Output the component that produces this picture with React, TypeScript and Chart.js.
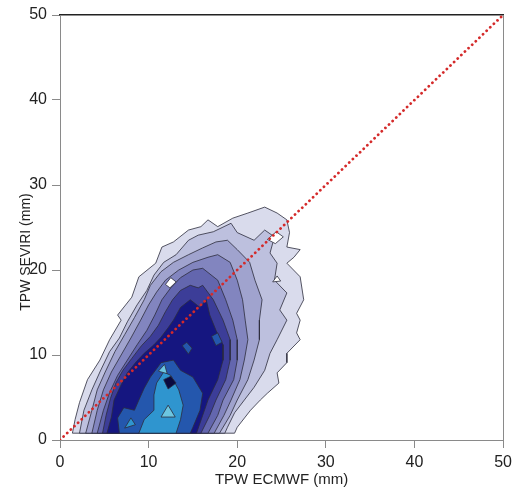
import React, { useEffect, useRef } from "react";
import { Chart, registerables } from "chart.js";

Chart.register(...registerables);

type Pt = [number, number];

// ---- axes / labels ----
const AXIS_MIN = 0;
const AXIS_MAX = 50;
const X_TICKS = [0, 10, 20, 30, 40, 50];
const Y_TICKS = [0, 10, 20, 30, 40, 50];
const X_TITLE = "TPW ECMWF (mm)";
const Y_TITLE = "TPW SEVIRI (mm)";

// 1:1 reference line
const DIAGONAL: Pt[] = [[0, 0], [50, 50]];

// ---- contour level polygons (x = ECMWF mm, y = SEVIRI mm) ----
const LEVEL1: Pt[] = [
  [1.4, 0.8], [1.7, 2.4], [2.2, 4.4], [3.1, 7.1], [4.5, 9.4], [5.6, 11.8], [6.9, 14.1], [6.5, 14.7],
  [8.1, 16.8], [8.9, 19.2], [10.8, 20.8], [11.5, 22.7], [12.8, 23.3], [14.5, 24.7], [15.9, 25.1],
  [16.7, 25.9], [17.8, 25.1], [19.5, 26.1], [21.2, 26.7], [23.1, 27.4], [24.5, 26.7], [25.6, 25.9],
  [25.9, 24.4], [25.6, 22.7], [27.1, 22.4], [26.4, 21.5], [25.6, 20.8], [27.1, 19.2], [27.5, 16.5],
  [26.7, 14.9], [27.1, 14.1], [26.7, 12.6], [27.1, 11.8], [25.6, 10.2], [25.6, 9.1], [24.5, 7.9],
  [24.7, 6.7], [23.4, 5.5], [22.6, 4.7], [21.5, 3.5], [20.9, 2.7], [20.0, 1.5], [19.7, 0.8],
];
const LEVEL2: Pt[] = [
  [2.2, 0.8], [2.7, 3.5], [3.6, 5.9], [4.5, 8.0], [5.6, 10.4], [6.7, 12.0], [7.6, 13.9], [8.7, 15.9],
  [9.8, 17.6], [10.6, 19.4], [11.7, 20.9], [13.1, 21.8], [14.5, 23.5], [15.6, 24.1], [17.3, 24.5],
  [19.3, 25.5], [20.0, 24.4], [21.9, 23.5], [23.1, 24.7], [24.2, 23.9], [23.7, 22.0], [24.5, 20.8],
  [24.2, 18.8], [25.6, 17.3], [24.8, 15.3], [25.6, 14.1], [24.5, 11.8], [23.7, 10.2], [23.1, 8.2],
  [21.9, 6.2], [20.8, 4.7], [19.7, 3.2], [18.9, 1.5], [18.6, 0.8],
];
const LEVEL3: Pt[] = [
  [2.9, 0.8], [3.6, 3.5], [4.2, 5.9], [5.1, 8.0], [6.2, 10.4], [7.3, 12.4], [8.4, 14.4], [9.5, 16.5],
  [10.2, 18.2], [11.4, 19.8], [12.8, 20.9], [14.5, 21.8], [16.1, 22.6], [17.6, 23.3], [18.9, 23.5],
  [20.0, 22.4], [21.4, 20.9], [22.0, 18.8], [22.8, 16.5], [22.5, 14.1], [22.5, 11.8], [21.9, 9.4],
  [21.2, 7.1], [20.0, 4.7], [19.2, 2.9], [18.0, 0.8],
];
const LEVEL4: Pt[] = [
  [3.6, 0.8], [4.2, 3.5], [4.9, 5.9], [5.8, 8.0], [6.9, 10.0], [8.0, 12.0], [9.1, 14.1], [10.0, 15.9],
  [10.9, 17.4], [11.9, 18.8], [13.4, 20.0], [15.0, 20.9], [16.7, 21.5], [17.8, 21.8], [19.2, 20.9],
  [20.0, 18.8], [20.6, 16.5], [20.9, 14.1], [21.2, 11.8], [20.8, 9.4], [20.3, 7.1], [19.3, 4.7],
  [18.5, 2.9], [17.4, 0.8],
];
const LEVEL5: Pt[] = [
  [4.2, 0.8], [4.9, 3.5], [5.6, 5.6], [6.5, 7.6], [7.6, 9.4], [8.7, 11.2], [9.8, 12.9], [10.7, 14.7],
  [11.5, 16.5], [12.5, 17.9], [13.6, 19.1], [15.0, 20.0], [16.1, 20.2], [17.8, 18.8], [18.7, 16.5],
  [19.5, 14.1], [20.0, 11.8], [20.0, 9.4], [19.6, 7.1], [18.4, 4.7], [17.8, 2.9], [16.7, 0.8],
];
const HOLES: Pt[][] = [
  [[23.4, 23.6], [24.4, 24.5], [25.2, 23.9], [24.3, 23.1]],
  [[11.9, 18.3], [12.5, 19.1], [13.1, 18.6], [12.4, 17.9]],
  [[24.0, 18.6], [24.5, 19.3], [24.9, 18.7]],
];
const LEVEL6: Pt[] = [
  [4.8, 0.8], [5.2, 2.9], [5.7, 4.9], [6.3, 6.7], [7.1, 8.2], [8.1, 9.6], [9.2, 11.1], [10.2, 12.2],
  [11.1, 13.5], [11.9, 15.1], [12.7, 16.5], [13.6, 17.6], [14.7, 18.2], [15.6, 17.9], [16.1, 18.2],
  [17.3, 16.5], [18.4, 14.1], [19.2, 11.8], [19.2, 9.4], [18.7, 7.1], [17.6, 4.7], [16.9, 2.9], [15.9, 0.8],
];
const LEVEL7: Pt[] = [
  [5.3, 0.8], [5.8, 2.7], [6.1, 4.7], [6.9, 6.5], [7.6, 7.9], [8.6, 9.2], [9.5, 10.2], [10.6, 11.2],
  [11.4, 12.1], [12.2, 13.2], [12.8, 14.1], [13.6, 15.6], [14.7, 16.5], [15.8, 15.6], [16.5, 16.5],
  [16.9, 14.7], [17.6, 12.9], [18.4, 11.2], [18.4, 9.4], [17.8, 7.1], [16.7, 4.7], [16.1, 2.9], [15.4, 0.8],
];
const LEVEL8: Pt[][] = [
  [[6.7, 0.8], [6.5, 2.6], [7.2, 3.8], [8.4, 3.5], [8.9, 4.7], [9.5, 6.1], [10.2, 7.4], [11.4, 9.1],
   [12.8, 9.4], [13.6, 8.2], [15.0, 7.4], [16.1, 5.5], [15.8, 3.5], [15.0, 1.5], [14.7, 0.8]],
  [[13.8, 11.1], [14.3, 11.5], [14.9, 10.8], [14.5, 10.1]],
  [[17.1, 12.2], [17.8, 12.6], [18.3, 11.5], [17.6, 11.1]],
];
const LEVEL9: Pt[][] = [
  [[8.9, 0.8], [9.5, 2.4], [10.6, 3.5], [10.6, 5.3], [10.9, 6.7], [11.7, 8.0], [12.5, 7.6], [13.4, 5.9],
   [13.9, 4.1], [13.6, 2.4], [13.1, 0.8]],
  [[7.3, 1.4], [8.0, 2.6], [8.5, 1.8]],
];
const LEVEL10: Pt[][] = [
  [[11.4, 2.7], [12.2, 4.1], [13.0, 2.7]],
  [[11.1, 8.1], [11.8, 8.9], [12.1, 7.8]],
];
const CORE: Pt[] = [[11.7, 7.1], [12.5, 7.5], [13.1, 6.7], [12.2, 6.0]];

// ---- styling palette (one per level) ----
const LEVEL_COLORS = [
  "#d9dbec", "#bdc0de", "#a0a3ce", "#8285bf", "#6366ae",
  "#3c3d98", "#151680", "#2457ad", "#2f95cf", "#6cc6e0",
];
const HOLE_COLOR = "#ffffff";
const CORE_COLOR = "#0a0a40";

const toXY = (poly: Pt[]) => poly.concat([poly[0]]).map(([x, y]) => ({ x, y }));

const FONT = '"Liberation Sans", Arial, sans-serif';

const yTitlePlugin = {
  id: "yTitle",
  afterDraw(chart: any) {
    const ctx = chart.ctx;
    ctx.save();
    ctx.translate(26, 252);
    ctx.rotate(-Math.PI / 2);
    ctx.font = `14px ${FONT}`;
    ctx.fillStyle = "#222";
    ctx.textAlign = "center";
    ctx.textBaseline = "middle";
    ctx.fillText(Y_TITLE, 0, 0);
    ctx.restore();
  },
};

export default function App() {
  const ref = useRef<HTMLCanvasElement>(null);

  useEffect(() => {
    if (!ref.current) return;

    const layers: { polys: Pt[][]; color: string }[] = [
      { polys: [LEVEL1], color: LEVEL_COLORS[0] },
      { polys: [LEVEL2], color: LEVEL_COLORS[1] },
      { polys: [LEVEL3], color: LEVEL_COLORS[2] },
      { polys: [LEVEL4], color: LEVEL_COLORS[3] },
      { polys: [LEVEL5], color: LEVEL_COLORS[4] },
      { polys: HOLES, color: HOLE_COLOR },
      { polys: [LEVEL6], color: LEVEL_COLORS[5] },
      { polys: [LEVEL7], color: LEVEL_COLORS[6] },
      { polys: LEVEL8, color: LEVEL_COLORS[7] },
      { polys: LEVEL9, color: LEVEL_COLORS[8] },
      { polys: LEVEL10, color: LEVEL_COLORS[9] },
      { polys: [CORE], color: CORE_COLOR },
    ];

    const datasets: any[] = [];
    let order = 100;
    layers.forEach((layer) => {
      layer.polys.forEach((poly) => {
        datasets.push({
          type: "line",
          data: toXY(poly),
          backgroundColor: layer.color,
          borderColor: "#2c2c3c",
          borderWidth: 0.8,
          fill: "shape",
          pointRadius: 0,
          tension: 0,
          order: order--,
        });
      });
    });
    datasets.push({
      type: "line",
      data: DIAGONAL.map(([x, y]) => ({ x, y })),
      borderColor: "#d42a2a",
      borderWidth: 2.8,
      borderDash: [0.01, 5],
      borderCapStyle: "round",
      fill: false,
      pointRadius: 0,
      order: 0,
    });

    const setTicks = (vals: number[]) => (scale: any) => {
      scale.ticks = vals.map((v) => ({ value: v }));
    };

    const chart = new Chart(ref.current, {
      type: "line",
      data: { datasets },
      plugins: [yTitlePlugin],
      options: {
        animation: false,
        responsive: false,
        events: [],
        layout: { padding: 0 },
        plugins: { legend: { display: false }, tooltip: { enabled: false } },
        scales: {
          x: {
            type: "linear",
            position: "bottom",
            min: AXIS_MIN,
            max: AXIS_MAX,
            afterBuildTicks: setTicks(X_TICKS),
            afterFit: (s: any) => { s.height = 50; },
            grid: { drawOnChartArea: false, color: "#8a8a8a", tickLength: 8 },
            border: { color: "#8a8a8a", width: 1 },
            ticks: { font: { family: FONT, size: 16 }, color: "#222", padding: 5, maxRotation: 0 },
            title: {
              display: true,
              text: X_TITLE,
              font: { family: FONT, size: 15 },
              color: "#222",
              padding: { top: 0, bottom: 1 },
            },
          },
          x2: {
            type: "linear",
            position: "top",
            min: AXIS_MIN,
            max: AXIS_MAX,
            afterFit: (s: any) => { s.height = 15; },
            grid: { display: false },
            border: { color: "#222", width: 1.5 },
            ticks: { display: false },
          },
          y: {
            type: "linear",
            position: "left",
            min: AXIS_MIN,
            max: AXIS_MAX,
            afterBuildTicks: setTicks(Y_TICKS),
            afterFit: (s: any) => { s.width = 60; },
            grid: { drawOnChartArea: false, color: "#8a8a8a", tickLength: 8 },
            border: { color: "#8a8a8a", width: 1 },
            ticks: { font: { family: FONT, size: 16 }, color: "#222", padding: 5 },
          },
          y2: {
            type: "linear",
            position: "right",
            min: AXIS_MIN,
            max: AXIS_MAX,
            afterFit: (s: any) => { s.width = 8; },
            grid: { display: false },
            border: { color: "#8a8a8a", width: 1 },
            ticks: { display: false },
          },
        },
      } as any,
    });

    return () => chart.destroy();
  }, []);

  return (
    <canvas
      ref={ref}
      width={517}
      height={490}
      style={{ position: "fixed", left: 0, top: 0, display: "block", background: "#fff" }}
    />
  );
}
